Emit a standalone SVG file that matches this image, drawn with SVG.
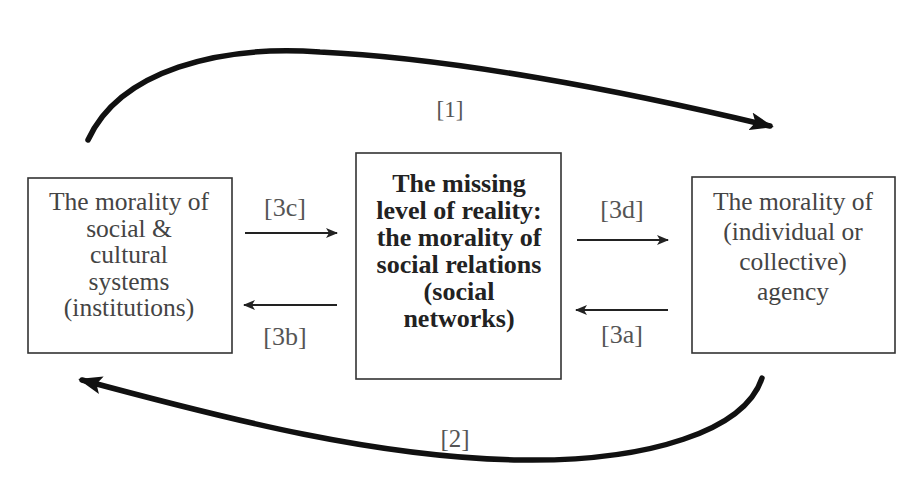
<svg xmlns="http://www.w3.org/2000/svg" width="910" height="481" viewBox="0 0 910 481">
<defs>
<style>
.box{fill:#fff;stroke:#333;stroke-width:1.6}
.t{font-family:"Liberation Serif","Times New Roman",serif;font-size:25.5px;fill:#444;text-anchor:middle}
.b{font-weight:bold;fill:#222;font-size:26px}
.lbl{font-family:"Liberation Serif","Times New Roman",serif;font-size:26px;fill:#555;text-anchor:middle}
.thin{fill:none;stroke:#222;stroke-width:1.8}
.thick{fill:none;stroke:#111;stroke-width:5.5;stroke-linecap:round}
</style>
<marker id="sa" viewBox="0 0 12 10" refX="11" refY="5" markerWidth="12" markerHeight="10" markerUnits="userSpaceOnUse" orient="auto">
<path d="M0,0 L12,5 L0,10 L3,5 Z" fill="#222"/>
</marker>
<marker id="ba" viewBox="0 0 24 18" refX="20" refY="9" markerWidth="24" markerHeight="18" markerUnits="userSpaceOnUse" orient="auto">
<path d="M0,0 L24,9 L0,18 L5,9 Z" fill="#111"/>
</marker>
</defs>
<rect width="910" height="481" fill="#fff"/>
<g id="connectors">
<path class="thick" d="M88,140 C120,70 220,45 320,52 C450,58 620,90 770,126" marker-end="url(#ba)"/>
<path class="thick" d="M762,378 C745,430 650,462 520,460 C380,458 230,420 82,380" marker-end="url(#ba)"/>
<line class="thin" x1="245" y1="233" x2="337" y2="233" marker-end="url(#sa)"/>
<line class="thin" x1="337" y1="305" x2="244" y2="305" marker-end="url(#sa)"/>
<line class="thin" x1="577" y1="240" x2="668" y2="240" marker-end="url(#sa)"/>
<line class="thin" x1="668" y1="310" x2="576" y2="310" marker-end="url(#sa)"/>
<text class="lbl" x="450" y="117" style="font-size:23px">[1]</text>
<text class="lbl" x="455" y="447" style="font-size:25px">[2]</text>
<text class="lbl" x="285" y="216">[3c]</text>
<text class="lbl" x="285" y="345">[3b]</text>
<text class="lbl" x="622" y="218">[3d]</text>
<text class="lbl" x="622" y="343">[3a]</text>
</g>
<g id="left">
<rect class="box" x="28" y="178" width="204" height="175"/>
<text class="t" x="129" y="210">The morality of</text>
<text class="t" x="129" y="236.5">social &amp;</text>
<text class="t" x="129" y="263">cultural</text>
<text class="t" x="129" y="289.5">systems</text>
<text class="t" x="129" y="316">(institutions)</text>
</g>
<g id="center">
<rect class="box" x="356" y="153" width="205" height="226"/>
<text class="t b" x="459" y="192">The missing</text>
<text class="t b" x="459" y="219">level of reality:</text>
<text class="t b" x="459" y="246">the morality of</text>
<text class="t b" x="459" y="273">social relations</text>
<text class="t b" x="459" y="300">(social</text>
<text class="t b" x="459" y="327">networks)</text>
</g>
<g id="right">
<rect class="box" x="692" y="177" width="203" height="176"/>
<text class="t" x="793" y="210">The morality of</text>
<text class="t" x="793" y="240">(individual or</text>
<text class="t" x="793" y="270">collective)</text>
<text class="t" x="793" y="300">agency</text>
</g>
</svg>
